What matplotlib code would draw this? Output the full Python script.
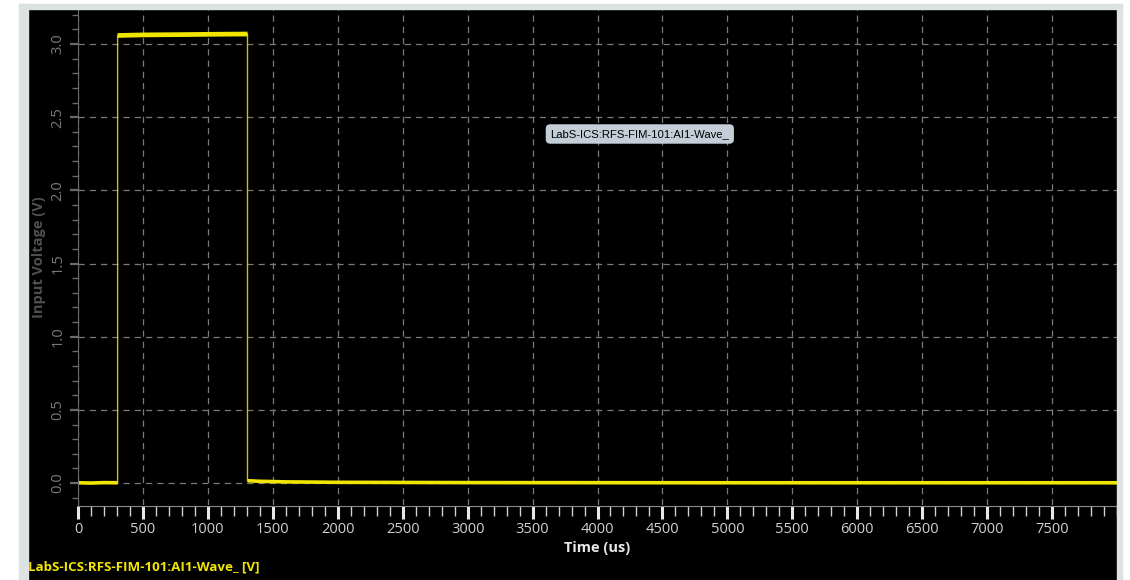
import matplotlib.pyplot as plt
from matplotlib.patches import Rectangle

# trace (time in us, volts)
pre_t = [0, 100, 200, 305]
pre_v = [0.002, 0.0, 0.003, 0.002]
pulse_t = [305, 500, 800, 1000, 1305]
pulse_v = [3.058, 3.062, 3.064, 3.066, 3.068]
post_t = [1305, 1400, 1600, 2000, 3000, 5000, 8000]
post_v = [0.016, 0.012, 0.008, 0.005, 0.003, 0.002, 0.002]

trace_name = "LabS-ICS:RFS-FIM-101:AI1-Wave_"
yellow = "#f2e500"

plt.rcParams['font.family'] = ['Open Sans', 'DejaVu Sans']

fig = plt.figure(figsize=(11.3, 5.8), dpi=100, facecolor="black")

# window frame around the plot (white + light grey strips)
W, H = 1130, 580
def px_rect(x0, y0, x1, y1, c):
    fig.patches.append(Rectangle((x0 / W, 1 - y1 / H), (x1 - x0) / W, (y1 - y0) / H,
                                 transform=fig.transFigure, color=c, zorder=0))
px_rect(0, 0, 1130, 4, "white")
px_rect(0, 0, 19, 580, "white")
px_rect(1122, 0, 1130, 580, "white")
px_rect(19, 4, 28, 580, "#dde2e2")
px_rect(19, 4, 1122, 9, "#dde2e2")
px_rect(1117, 4, 1122, 580, "#dde2e2")

ax = fig.add_axes([78 / W, 1 - 505 / H, (1117 - 78) / W, (505 - 9) / H])
ax.set_facecolor("black")

# vertical edges thin, flat levels thicker (noisy trace)
edge_t = [pre_t[-1], pulse_t[0], pulse_t[-1], post_t[0]]
edge_v = [pre_v[-1], pulse_v[0], pulse_v[-1], post_v[0]]
ax.plot(edge_t, edge_v, color=yellow, lw=1.0, alpha=0.85)
ax.plot(pre_t, pre_v, color=yellow, lw=2.6, solid_capstyle="butt")
ax.plot(pulse_t, pulse_v, color=yellow, lw=3.4, solid_capstyle="butt")
ax.plot(post_t, post_v, color=yellow, lw=2.6, solid_capstyle="butt")

ax.set_xlim(0, 8000)
ax.set_ylim(-0.15, 3.239)
ax.set_xticks(range(0, 8000, 500))
ax.set_xticks(range(0, 8001, 100), minor=True)
ax.set_yticks([0.0, 0.5, 1.0, 1.5, 2.0, 2.5, 3.0])
ax.set_yticks([i / 10 for i in range(-1, 33)], minor=True)
ax.set_yticklabels(["0.0", "0.5", "1.0", "1.5", "2.0", "2.5", "3.0"],
                   rotation=90, va="center")

ax.grid(True, which="major", color="#7a7a7a", ls=(0, (5, 4)), lw=0.9)

for s in ["top", "right"]:
    ax.spines[s].set_visible(False)
ax.spines["left"].set_color("#6a6a6a")
ax.spines["bottom"].set_color("#8a8a8a")
ax.spines["bottom"].set_position(("outward", 1))

ax.tick_params(axis="x", which="major", length=9, width=2.2, color="#e8e8e8",
               labelcolor="#d0d0d0", labelsize=10.5, pad=2)
ax.tick_params(axis="x", which="minor", length=7, width=1, color="#cfcfcf")
ax.tick_params(axis="y", which="major", length=6, width=1.6, color="#6a6a6a",
               labelcolor="#7a7a7a", labelsize=10.5, pad=3)
ax.tick_params(axis="y", which="minor", length=4, width=1, color="#6a6a6a")

ax.set_xlabel("Time (us)", color="#e6e6e6", fontsize=10.5, fontweight="bold", labelpad=3)
ax.set_ylabel("Input Voltage (V)", color="#505050", fontsize=10.5, fontweight="bold", labelpad=3)

ax.text(4326, 2.385, trace_name, fontsize=8.1, family="Liberation Sans",
        color="black", ha="center", va="center",
        bbox=dict(boxstyle="round,pad=0.42,rounding_size=0.4",
                  fc="#c3ced8", ec="none"))

fig.text(28 / W, 1 - 567 / H, trace_name + " [V]", color=yellow,
         fontsize=9.6, fontweight="bold", ha="left", va="center")

fig.savefig("out.png", dpi=100, facecolor="black")
